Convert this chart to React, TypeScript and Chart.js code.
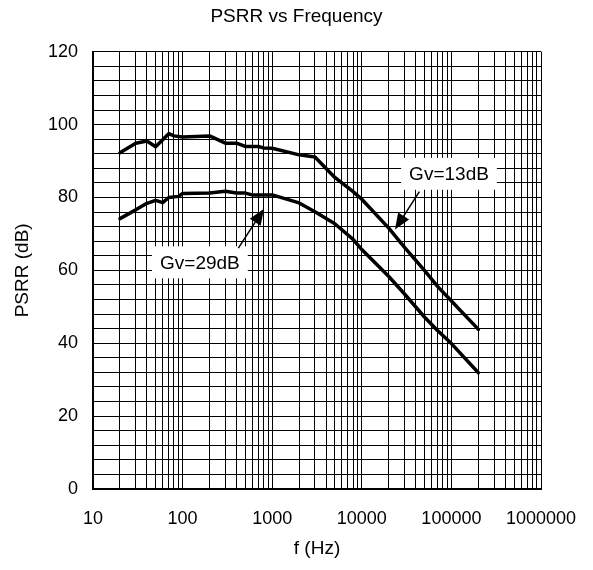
import React, { useEffect, useRef } from "react";
import { Chart, registerables } from "chart.js";

Chart.register(...registerables);

// ---- data ----
const gv13Freq = [20, 30, 40, 50, 70, 80, 100, 200, 300, 400, 500, 700, 800, 1000, 2000, 3000, 5000, 8000, 10000, 20000, 30000, 50000, 70000, 100000, 200000];
const gv13Psrr = [92.3, 94.9, 95.5, 93.9, 97.5, 96.9, 96.6, 96.9, 94.9, 94.9, 94.0, 94.0, 93.6, 93.5, 91.7, 91.1, 85.5, 81.6, 79.5, 71.6, 66.3, 60.0, 55.6, 51.6, 43.8];

const gv29Freq = [20, 30, 40, 50, 60, 70, 90, 100, 200, 300, 400, 500, 600, 1000, 2000, 3000, 5000, 8000, 10000, 20000, 30000, 50000, 70000, 100000, 200000];
const gv29Psrr = [74.2, 76.6, 78.4, 79.2, 78.6, 80.0, 80.3, 81.1, 81.2, 81.7, 81.2, 81.2, 80.7, 80.7, 78.5, 76.1, 72.8, 68.5, 65.7, 58.3, 53.5, 47.2, 43.5, 39.9, 31.9];

const xDecades = [10, 100, 1000, 10000, 100000, 1000000];
const xMultipliers = [1, 2, 3, 4, 5, 6, 7, 8, 9];
const yMin = 0;
const yMax = 120;
const yGridStep = 4;
const yLabelStep = 20;

// annotations (data coordinates)
const annotationText = ["Gv=13dB", "Gv=29dB"];
const annotationTextFreq = [94000, 156];
const annotationTextDb = [86.5, 62.2];
const arrowFromFreq = [43900, 419];
const arrowFromDb = [81.6, 66.1];
const arrowToFreq = [23450, 809];
const arrowToDb = [71.2, 76.9];

const FONT = "'Liberation Sans', Arial, sans-serif";

const xGridValues: number[] = [];
xDecades.forEach((d, i) => {
  if (i === xDecades.length - 1) {
    xGridValues.push(d);
  } else {
    xMultipliers.forEach((m) => xGridValues.push(d * m));
  }
});

const annotationPlugin = {
  id: "gvAnnotations",
  afterDatasetsDraw(chart: any) {
    const ctx = chart.ctx;
    const xs = chart.scales.x;
    const ys = chart.scales.y;
    ctx.save();
    ctx.font = `19px ${FONT}`;
    annotationText.forEach((t, i) => {
      const tx = xs.getPixelForValue(annotationTextFreq[i]);
      const ty = ys.getPixelForValue(annotationTextDb[i]);
      const w = ctx.measureText(t).width;
      const padX = 8;
      const boxH = 32;
      ctx.fillStyle = "#fff";
      ctx.fillRect(tx - w / 2 - padX, ty - boxH / 2, w + padX * 2, boxH);
      ctx.fillStyle = "#000";
      ctx.textAlign = "center";
      ctx.textBaseline = "middle";
      ctx.fillText(t, tx, ty + 1);

      const x1 = xs.getPixelForValue(arrowFromFreq[i]);
      const y1 = ys.getPixelForValue(arrowFromDb[i]);
      const x2 = xs.getPixelForValue(arrowToFreq[i]);
      const y2 = ys.getPixelForValue(arrowToDb[i]);
      const ang = Math.atan2(y2 - y1, x2 - x1);
      const headLen = 16;
      const headHalf = 6.5;
      const bx = x2 - headLen * Math.cos(ang);
      const by = y2 - headLen * Math.sin(ang);
      ctx.strokeStyle = "#000";
      ctx.lineWidth = 1.5;
      ctx.beginPath();
      ctx.moveTo(x1, y1);
      ctx.lineTo(bx, by);
      ctx.stroke();
      ctx.beginPath();
      ctx.moveTo(x2, y2);
      ctx.lineTo(bx + headHalf * Math.sin(ang), by - headHalf * Math.cos(ang));
      ctx.lineTo(bx - headHalf * Math.sin(ang), by + headHalf * Math.cos(ang));
      ctx.closePath();
      ctx.fill();
    });
    ctx.restore();
  },
};

export default function App() {
  const canvasRef = useRef<HTMLCanvasElement | null>(null);

  useEffect(() => {
    if (!canvasRef.current) return;
    Chart.defaults.color = "#000";
    Chart.defaults.font.family = FONT;
    const chart = new Chart(canvasRef.current, {
      type: "line",
      data: {
        datasets: [
          {
            label: "Gv=13dB",
            data: gv13Freq.map((f, i) => ({ x: f, y: gv13Psrr[i] })),
            borderColor: "#000",
            borderWidth: 3.5,
            pointRadius: 0,
            tension: 0,
            borderJoinStyle: "round",
            borderCapStyle: "round",
            fill: false,
          },
          {
            label: "Gv=29dB",
            data: gv29Freq.map((f, i) => ({ x: f, y: gv29Psrr[i] })),
            borderColor: "#000",
            borderWidth: 3.5,
            pointRadius: 0,
            tension: 0,
            borderJoinStyle: "round",
            borderCapStyle: "round",
            fill: false,
          },
        ],
      },
      options: {
        animation: false,
        responsive: false,
        maintainAspectRatio: false,
        layout: { padding: { left: 0, right: 0, top: 0, bottom: 0 } },
        plugins: {
          legend: { display: false },
          tooltip: { enabled: false },
          title: {
            display: true,
            text: "PSRR vs Frequency",
            color: "#000",
            font: { size: 19, weight: "normal", family: FONT },
            padding: { top: 5.3, bottom: 23.6 },
          },
        },
        scales: {
          x: {
            type: "logarithmic",
            min: 10,
            max: 1000000,
            afterBuildTicks: (scale: any) => {
              scale.ticks = xGridValues.map((v) => ({ value: v }));
            },
            afterFit: (scale: any) => {
              scale.height = 81;
            },
            ticks: {
              autoSkip: false,
              maxRotation: 0,
              minRotation: 0,
              padding: 3,
              color: "#000",
              font: { size: 18, family: FONT },
              callback: (value: any) => {
                const v = Number(value);
                const d = xDecades.find((dd) => Math.abs(dd - v) < 1e-6 * dd);
                return d !== undefined ? String(d) : "";
              },
            },
            grid: {
              color: "#000",
              lineWidth: 1,
              drawTicks: true,
              tickLength: 16,
              tickColor: "rgba(0,0,0,0)",
            },
            border: { color: "#000", width: 2 },
            title: {
              display: true,
              text: "f (Hz)",
              color: "#000",
              font: { size: 19, family: FONT },
              padding: { top: 0, bottom: 9.6 },
            },
          },
          y: {
            type: "linear",
            min: yMin,
            max: yMax,
            afterFit: (scale: any) => {
              scale.width = 93;
            },
            ticks: {
              stepSize: yGridStep,
              autoSkip: false,
              padding: 15,
              color: "#000",
              font: { size: 18, family: FONT },
              callback: (value: any) => {
                const v = Number(value);
                return Math.abs(v % yLabelStep) < 1e-6 ? String(v) : "";
              },
            },
            grid: {
              color: "#000",
              lineWidth: 1,
              drawTicks: false,
            },
            border: { color: "#000", width: 2 },
            title: {
              display: true,
              text: "PSRR (dB)",
              color: "#000",
              font: { size: 19, family: FONT },
              padding: { top: 11, bottom: 0 },
            },
          },
          yRightSpace: {
            type: "linear",
            position: "right",
            min: yMin,
            max: yMax,
            afterFit: (scale: any) => {
              scale.width = 52;
            },
            ticks: { display: false },
            grid: { display: false, drawTicks: false },
            border: { display: false },
          },
        },
      },
      plugins: [annotationPlugin],
    } as any);
    return () => chart.destroy();
  }, []);

  return (
    <div style={{ position: "fixed", left: 0, top: 0, width: 593, height: 570, background: "#fff" }}>
      <canvas ref={canvasRef} width={593} height={570} style={{ display: "block" }} />
    </div>
  );
}
